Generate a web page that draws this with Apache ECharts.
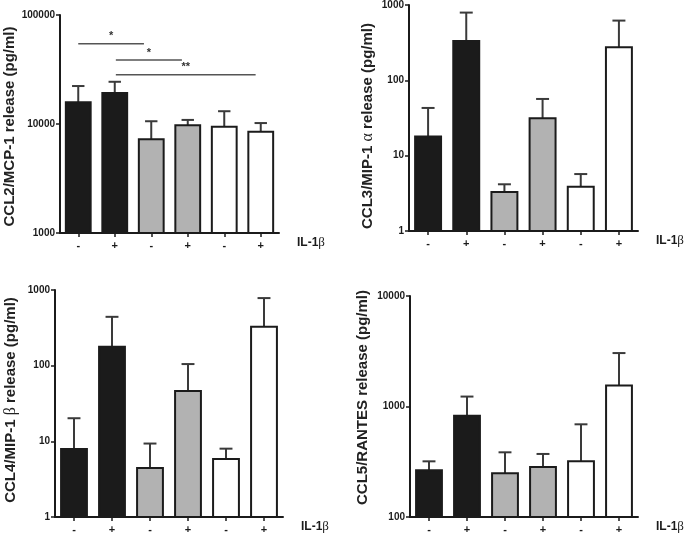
<!DOCTYPE html>
<html>
<head>
<meta charset="utf-8">
<script src="https://cdn.jsdelivr.net/npm/echarts@6/dist/echarts.min.js"></script>
<style>
html,body{margin:0;padding:0;background:#fff;}
#chart{width:685px;height:535px;}
</style>
</head>
<body>
<div id="chart"></div>
<script>
// ---- data ----
const categories = ['-', '+', '-', '+', '-', '+'];
const barColors = ['#1b1b1b', '#1b1b1b', '#b2b2b2', '#b2b2b2', '#ffffff', '#ffffff'];

const ccl2Mean  = [15800, 19200, 7250, 9720, 9440, 8490];
const ccl2Upper = [22300, 24400, 10600, 10900, 13100, 10200];

const ccl3Mean  = [17.9, 334, 3.3, 31.4, 3.87, 275];
const ccl3Upper = [43, 793, 4.17, 56.6, 5.7, 621];

const ccl4Mean  = [7.9, 178, 4.45, 46.4, 5.85, 326];
const ccl4Upper = [20.2, 442, 9.35, 105, 8.0, 782];

const ccl5Mean  = [265, 824, 249, 284, 319, 1552];
const ccl5Upper = [319, 1230, 385, 372, 690, 3045];

// significance brackets for CCL2 panel: [from index, to index, y value], label
const sigFrom   = [0, 1.03, 1.03];
const sigTo     = [1.8, 2.84, 4.86];
const sigY      = [54600, 38600, 28300];
const sigLabels = ['*', '*', '**'];

const yRanges = [[1000, 100000], [1, 1000], [1, 1000], [100, 10000]];

// ---- layout ----
const grids = [
  {left: 60,  top: 15,    width: 219, height: 218},
  {left: 409, top: 5,     width: 229, height: 226},
  {left: 55,  top: 290,   width: 228, height: 227},
  {left: 410, top: 296,   width: 228, height: 223}
];

const SANS = '"Liberation Sans", Arial, Helvetica, sans-serif';
const SERIF = '"Liberation Serif", "DejaVu Serif", serif';
const INK = '#1b1b1b';

const yNames = [
  '{a|CCL2/MCP-1 release (pg/ml)}',
  '{a|CCL3/MIP-1 }{b|α}{a| release (pg/ml)}',
  '{a|CCL4/MIP-1 }{b|β}{a| release (pg/ml)}',
  '{a|CCL5/RANTES release (pg/ml)}'
];
const yNameGaps = [43, 33, 36, 40];
const yNamePads = [[0, 5, 0, 0], [0, 16, 0, 0], [0, 0, 0, 7], [0, 0, 0, 18]];

function bandInfo(api, yv) {
  const c0 = api.coord([0, yv]);
  const c1 = api.coord([1, yv]);
  return {x0: c0[0], band: c1[0] - c0[0]};
}

function barRender(minVal) {
  return function (params, api) {
    const i = api.value(0);
    const v = api.value(1);
    const top = api.coord([i, v]);
    const base = api.coord([i, minVal]);
    const b = bandInfo(api, minVal);
    const w = b.band * 0.68;
    return {
      type: 'rect',
      shape: {x: top[0] - w / 2, y: top[1], width: w, height: base[1] - top[1]},
      style: {fill: barColors[i], stroke: INK, lineWidth: 2}
    };
  };
}

function errRender(params, api) {
  const i = api.value(0);
  const lo = api.coord([i, api.value(1)]);
  const hi = api.coord([i, api.value(2)]);
  const b = bandInfo(api, api.value(1));
  const cap = b.band * 0.34;
  return {
    type: 'group',
    children: [
      {type: 'line', shape: {x1: lo[0], y1: lo[1], x2: hi[0], y2: hi[1]}, style: {stroke: '#3a3a3a', lineWidth: 2}},
      {type: 'line', shape: {x1: hi[0] - cap / 2, y1: hi[1], x2: hi[0] + cap / 2, y2: hi[1]}, style: {stroke: '#3a3a3a', lineWidth: 2}}
    ]
  };
}

function sigRender(params, api) {
  const k = params.dataIndex;
  const from = api.value(0), to = api.value(1), yv = api.value(2);
  const b = bandInfo(api, yv);
  const y = api.coord([0, yv])[1];
  const x1 = b.x0 + from * b.band;
  const x2 = b.x0 + to * b.band;
  return {
    type: 'group',
    children: [
      {type: 'line', shape: {x1: x1, y1: y, x2: x2, y2: y}, style: {stroke: '#555', lineWidth: 1.5}},
      {type: 'text', x: (x1 + x2) / 2, y: y - 2,
       style: {text: sigLabels[k], fill: '#333', font: 'bold 11px ' + SANS, align: 'center', verticalAlign: 'bottom'}}
    ]
  };
}

const means = [ccl2Mean, ccl3Mean, ccl4Mean, ccl5Mean];
const uppers = [ccl2Upper, ccl3Upper, ccl4Upper, ccl5Upper];

const xAxes = grids.map((g, idx) => ({
  type: 'category',
  gridIndex: idx,
  data: categories,
  boundaryGap: true,
  axisLine: {show: true, lineStyle: {color: INK, width: 2}},
  axisTick: {show: true, alignWithLabel: true, length: 4, lineStyle: {color: INK, width: 1.5}},
  axisLabel: {color: INK, fontFamily: SANS, fontWeight: 'bold', fontSize: 11, margin: 7},
  splitLine: {show: false},
  name: '{a|IL-1}{b|β}',
  nameLocation: 'end',
  nameGap: 18,
  nameTextStyle: {
    verticalAlign: 'top', padding: [3, 0, 0, 0],
    rich: {
      a: {fontFamily: SANS, fontWeight: 'bold', fontSize: 12, color: INK},
      b: {fontFamily: SERIF, fontSize: 13, color: INK}
    }
  }
}));

const yAxes = grids.map((g, idx) => ({
  type: 'log',
  logBase: 10,
  gridIndex: idx,
  min: yRanges[idx][0],
  max: yRanges[idx][1],
  axisLine: {show: true, lineStyle: {color: INK, width: 2}},
  axisTick: {show: true, length: 4, lineStyle: {color: INK, width: 1.5}},
  minorTick: {show: false},
  splitLine: {show: false},
  axisLabel: {color: INK, fontFamily: SANS, fontWeight: 'bold', fontSize: 10, margin: 5,
              formatter: v => String(Math.round(v))},
  name: yNames[idx],
  nameLocation: 'middle',
  nameRotate: 90,
  nameGap: yNameGaps[idx],
  nameTextStyle: {
    padding: yNamePads[idx],
    rich: {
      a: {fontFamily: SANS, fontWeight: 'bold', fontSize: 15, color: '#222'},
      b: {fontFamily: SERIF, fontSize: 16, color: '#222'}
    }
  }
}));

const series = [];
grids.forEach((g, idx) => {
  series.push({
    type: 'custom', xAxisIndex: idx, yAxisIndex: idx,
    renderItem: barRender(yRanges[idx][0]),
    encode: {x: 0, y: 1},
    data: means[idx].map((v, i) => [i, v]),
    z: 2
  });
  series.push({
    type: 'custom', xAxisIndex: idx, yAxisIndex: idx,
    renderItem: errRender,
    encode: {x: 0, y: [1, 2]},
    data: means[idx].map((v, i) => [i, v, uppers[idx][i]]),
    z: 1
  });
});
series.push({
  type: 'custom', xAxisIndex: 0, yAxisIndex: 0,
  renderItem: sigRender,
  encode: {x: 0, y: 2},
  data: sigFrom.map((f, k) => [f, sigTo[k], sigY[k]]),
  z: 3
});

const chart = echarts.init(document.getElementById('chart'), null, {renderer: 'canvas'});
chart.setOption({
  animation: false,
  backgroundColor: '#ffffff',
  grid: grids,
  xAxis: xAxes,
  yAxis: yAxes,
  series: series
});
</script>
</body>
</html>
